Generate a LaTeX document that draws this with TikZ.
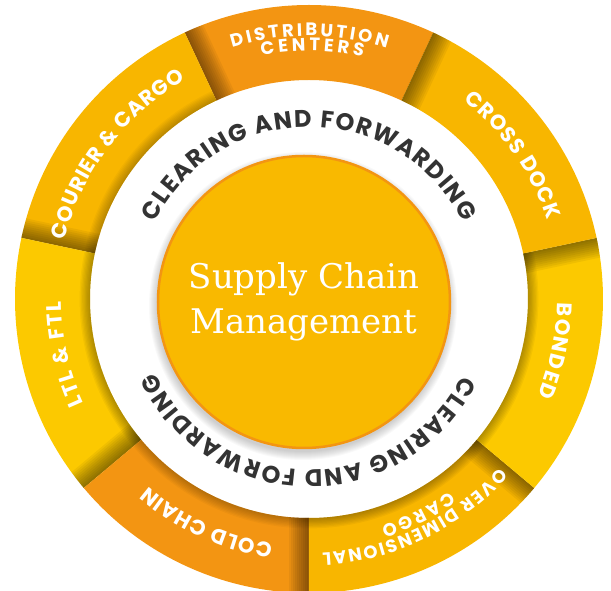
\documentclass[tikz,border=0pt]{standalone}
\usepackage{fontspec}
\usepackage{xcolor}
\usepackage{tikz}
\usetikzlibrary{decorations.text}
\newfontfamily\rimfont{Poppins}
\newfontfamily\hubfont{DejaVu Serif}
\definecolor{segorange}{RGB}{243,149,18}
\definecolor{seggold}{RGB}{248,182,0}
\definecolor{segyellow}{RGB}{252,201,0}
\definecolor{hubfill}{RGB}{249,185,0}
\definecolor{hubedge}{RGB}{243,149,18}
\definecolor{ringtext}{RGB}{51,51,51}
\tikzset{
  rimlbl/.style  ={decorate, decoration={text along path, text align={fit to path}, text color=white,
                   text={|\rimfont\bfseries\fontsize{21}{21}\selectfont|#1}}},
  rimsmall/.style={decorate, decoration={text along path, text align={fit to path}, text color=white,
                   text={|\rimfont\bfseries\fontsize{18}{18}\selectfont|#1}}},
  ringlbl/.style ={decorate, decoration={text along path, text align={fit to path}, text color=ringtext,
                   text={|\rimfont\bfseries\fontsize{24}{24}\selectfont|#1}}},
  hub/.style     ={circle, fill=hubfill, draw=hubedge, line width=2.5pt, minimum size=292pt, inner sep=0pt},
  hubtext/.style ={font=\hubfont\fontsize{34}{45}\selectfont, text=white, align=center}
}

\begin{document}
\begin{tikzpicture}[x=1pt, y=1pt]
  \useasboundingbox (-309,-292) rectangle (302,299);
  % outer ring: start/end angle / colour / inner shade
  \foreach \a/\b/\c/\sh in {65/115/segorange/0, 115/168/seggold/0.03, 168/220/segyellow/0.04,
                            220/270/segorange/0.03, 270/320/seggold/0.04, 320/372/segyellow/0.04,
                            372/425/seggold/0}{
    \begin{scope}
      \clip (\a:219) arc[start angle=\a, end angle=\b, radius=219] -- (\b:294)
            arc[start angle=\b, end angle=\a, radius=294] -- cycle;
      \fill[\c] (0,0) circle (300);
      \foreach \k in {1,...,10} \fill[black, opacity=0.05, rotate=\b] (200,-2*\k) rectangle (300,0);
      \foreach \k in {1,...,8} \fill[black, opacity=\sh] (0,0) circle (219+1.3*\k);
    \end{scope}
  }
  % hub with its soft shadow
  \foreach \k in {1,...,9} \fill[black, opacity=0.022] (-6,-7) circle (145+\k);
  \node[hub] (hub) at (-5,-3) {};
  \node[hubtext] (title) at (hub) {Supply Chain\\Management};
  % labels on the outer ring
  \path[rimsmall={DISTRIBUTION}] (107:263) arc[start angle=107, end angle=72.8, radius=263];
  \path[rimsmall={CENTERS}] (101:248) arc[start angle=101, end angle=77.4, radius=248];
  \path[rimlbl={CROSS DOCK}] (52.1:251) arc[start angle=52.1, end angle=18.3, radius=251];
  \path[rimlbl={BONDED}] (-0.9:248) arc[start angle=-0.9, end angle=-22.9, radius=248];
  \path[rimsmall={OVER DIMENSIONAL}] (-41.6:254) arc[start angle=-41.6, end angle=-87, radius=254];
  \path[rimsmall={CARGO}] (-53.8:238) arc[start angle=-53.8, end angle=-72.4, radius=238];
  \path[rimlbl={COLD CHAIN}] (261.6:247) arc[start angle=261.6, end angle=229.3, radius=247];
  \path[rimlbl={LTL {\&} FTL}] (204.8:248) arc[start angle=204.8, end angle=180.6, radius=248];
  \path[rimlbl={COURIER {\&} CARGO}] (166.5:251) arc[start angle=166.5, end angle=119.5, radius=251];
  % labels on the white ring
  \path[ringlbl={CLEARING AND FORWARDING}] (153.5:172) arc[start angle=153.5, end angle=26.5, radius=172];
  \path[ringlbl={CLEARING AND FORWARDING}] (-26.5:171) arc[start angle=-26.5, end angle=-154.5, radius=171];
\end{tikzpicture}
\end{document}
